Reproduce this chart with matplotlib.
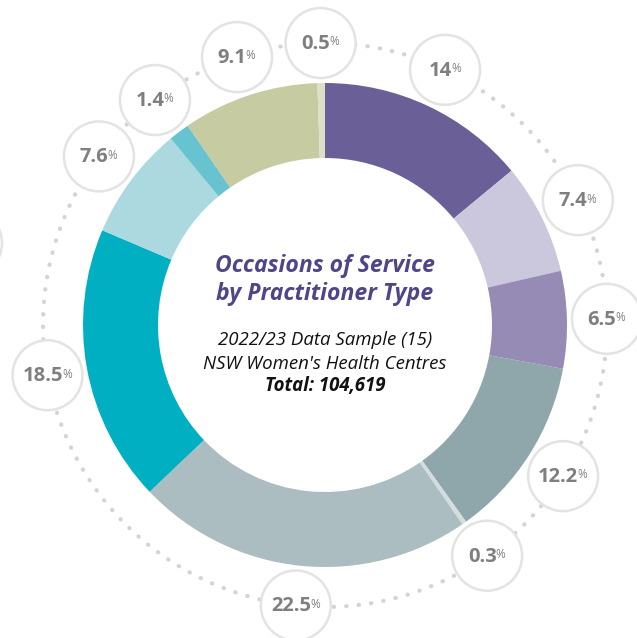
import numpy as np
import matplotlib.pyplot as plt
from matplotlib.patches import Circle

# shares, clockwise from 12 o'clock
shares = [14, 7.4, 6.5, 12.2, 0.3, 22.5, 18.5, 7.6, 1.4, 9.1, 0.5]
labels = ['14', '7.4', '6.5', '12.2', '0.3', '22.5', '18.5', '7.6', '1.4', '9.1', '0.5']
colors = ['#6a5f96', '#cbc7dc', '#958bb5', '#8fa6ab', '#d3dddf', '#abbdc0',
          '#00afc1', '#acd8e0', '#66c3cf', '#c6cba2', '#dde0c6']

title = 'Occasions of Service\nby Practitioner Type'
sub1 = '2022/23 Data Sample (15)'
sub2 = "NSW Women's Health Centres"
total = 'Total: 104,619'

plt.rcParams['font.family'] = ['Open Sans', 'DejaVu Sans']

fig = plt.figure(figsize=(6.37, 6.38), dpi=100)
ax = fig.add_axes([0, 0, 1, 1])

R_out = 242
ring = 75
R_lab = 282
r_circ = 35

ax.pie(shares, colors=colors, radius=R_out, startangle=90, counterclock=False,
       wedgeprops=dict(width=ring, linewidth=0), frame=True)
ax.set_xlim(-325, 312)
ax.set_ylim(-313, 325)
ax.set_aspect('equal')
ax.axis('off')

# dotted guide ring
th = np.linspace(0, 2 * np.pi, 400)
ax.plot(R_lab * np.cos(th), R_lab * np.sin(th), color='#d4d4d4', lw=3,
        linestyle=(0, (0.1, 2.9)), dash_capstyle='round', zorder=2)

# label bubbles at wedge mid-angles
cum = np.cumsum([0] + shares)
for i, lab in enumerate(labels):
    mid = (cum[i] + cum[i + 1]) / 2 / 100 * 360
    a = np.deg2rad(90 - mid)
    x, y = R_lab * np.cos(a), R_lab * np.sin(a)
    ax.add_patch(Circle((x, y), r_circ, facecolor='white', edgecolor='#e3e3e3',
                        lw=1.8, zorder=3))
    t = ax.text(x - 5, y - 1, lab, ha='center', va='center', fontsize=14.5,
                fontweight='bold', color='#7f7f7f', zorder=4)
    ax.annotate('%', xy=(1, 1), xycoords=t, xytext=(-0.5, -1), textcoords='offset points',
                ha='left', va='top', fontsize=8.5, color='#7f7f7f', zorder=4)

# partly visible bubble at the left edge
ax.add_patch(Circle((-358, 82), r_circ, facecolor='white', edgecolor='#e3e3e3',
                    lw=1.8, zorder=3))

# centre text
ax.text(0, 45, title, ha='center', va='center', fontsize=16.6, fontweight='bold',
        style='italic', color='#4f4589', linespacing=1.22)
ax.text(0, -15, sub1, ha='center', va='center', fontsize=13.4, style='italic', color='#111111')
ax.text(0, -39, sub2, ha='center', va='center', fontsize=13.4, style='italic', color='#111111')
ax.text(0, -61, total, ha='center', va='center', fontsize=13.4, style='italic',
        fontweight='bold', color='#111111')

fig.savefig('out.png', dpi=100)
